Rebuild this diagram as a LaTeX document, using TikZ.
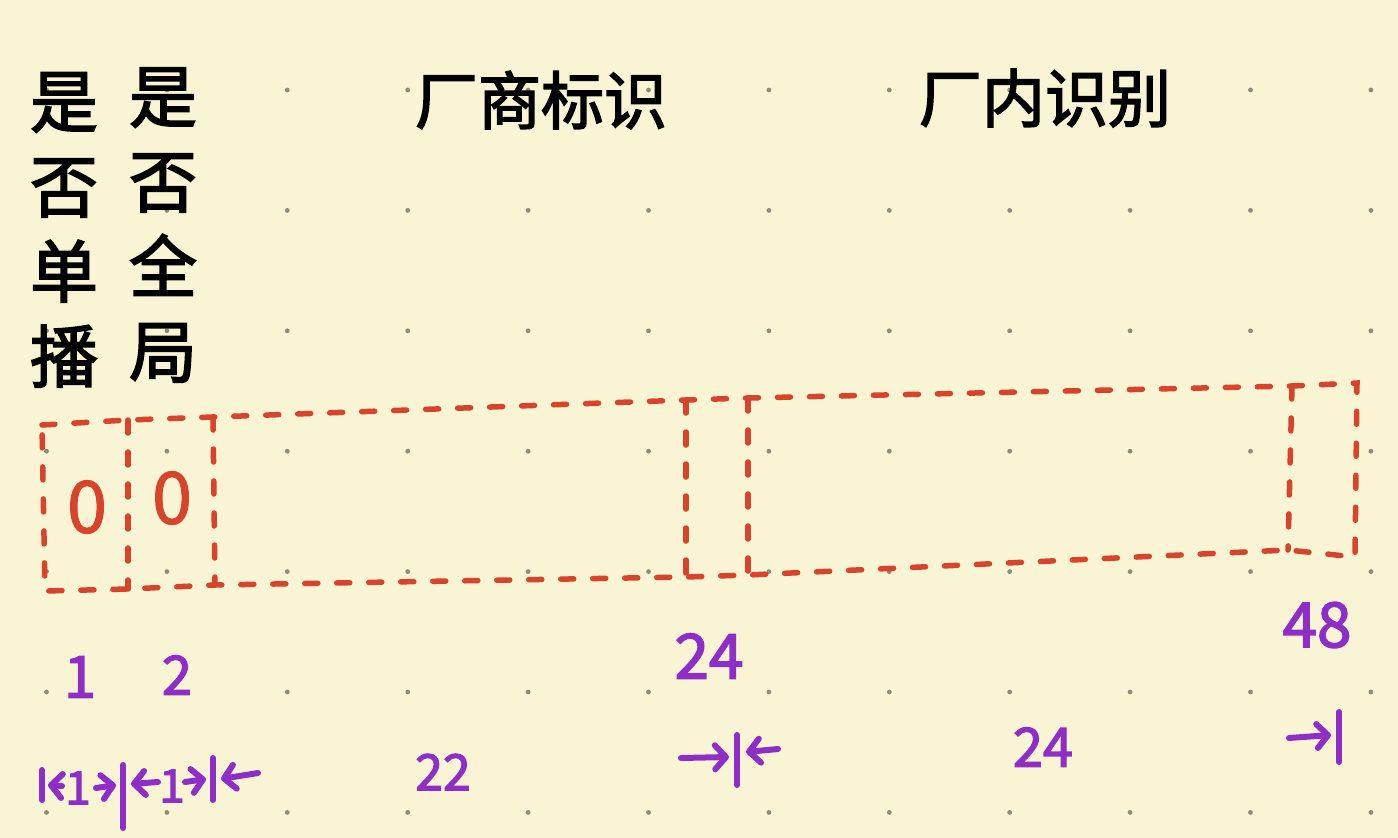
\documentclass[tikz,border=0pt]{standalone}
\usepackage{fontspec}
\newfontfamily\cjk[FakeBold=2.5]{Noto Sans CJK SC}
\newfontfamily\cjkdigit[FakeBold=1.5]{Noto Sans CJK SC}
\usetikzlibrary{arrows.meta}
\definecolor{paper}{HTML}{F9F4D3}
\definecolor{redink}{HTML}{D8432C}
\definecolor{purpleink}{HTML}{8E2EC6}
\definecolor{griddot}{HTML}{8C8B7E}
\begin{document}
\begin{tikzpicture}[x=1pt,y=-1pt,
  redbox/.style={draw=redink, line width=5.5pt, dash pattern=on 13pt off 19pt, line cap=round},
  vtext/.style={font=\cjk\fontsize{68}{85}\selectfont, text=black, inner sep=0pt, align=center},
  title/.style={font=\cjk\fontsize{63}{63}\selectfont, text=black, inner sep=0pt},
  bitval/.style={font=\cjkdigit\fontsize{72}{72}\selectfont, text=redink, inner sep=0pt},
  plabel/.style={text=purpleink, inner sep=0pt},
  pline/.style={draw=purpleink, line width=6pt, line cap=round},
  parrow/.style={pline, -{Straight Barb[length=11pt, width=24pt, line width=6pt, round]}}
]
\fill[paper] (0,0) rectangle (1398,838);
\useasboundingbox (0,0) rectangle (1398,838);
% dot grid
\foreach \i in {0,...,11}{
  \foreach \j in {0,...,6}{
    \fill[griddot] ({46.5+120.4*\i},{90+120.4*\j}) circle (2.4pt);
  }
}
% titles
\node[vtext] (unicast) at (64,230) {是\\否\\单\\播};
\node[vtext] (global) at (163,225) {是\\否\\全\\局};
\node[title] (vendor) at (541,100) {厂商标识};
\node[title] (internal) at (1045,98) {厂内识别};
% red dashed frame
\coordinate (tl) at (42,425);
\coordinate (t1) at (128,420);
\coordinate (t2) at (213,417);
\coordinate (t3) at (686,400);
\coordinate (t4) at (748,398);
\coordinate (t5) at (1292,386);
\coordinate (tr) at (1357,383);
\coordinate (br) at (1355,557);
\coordinate (b5) at (1288,550);
\coordinate (b4) at (748,575);
\coordinate (b3) at (686,577);
\coordinate (b2) at (215,585);
\coordinate (b1) at (128,589);
\coordinate (bl) at (45,591);
\draw[redbox] (tl) -- (t1) -- (t2) -- (t3) -- (t4) -- (t5) -- (tr) -- (br) -- (b5) -- (b4) -- (b3) -- (b2) -- (b1) -- (bl) -- cycle;
\draw[redbox] (t1) -- (b1);
\draw[redbox] (t2) -- (b2);
\draw[redbox] (t3) -- (b3);
\draw[redbox] (t4) -- (b4);
\draw[redbox] (t5) -- (b5);
\node[bitval] (v1) at (87,507) {0};
\node[bitval] (v2) at (172,498) {0};
% bit positions
\node[plabel, font=\cjk\fontsize{58}{58}\selectfont] (p1) at (80,677) {1};
\node[plabel, font=\cjk\fontsize{54}{54}\selectfont] (p2) at (177,675) {2};
\node[plabel, font=\cjk\fontsize{62}{62}\selectfont] (p24) at (709,656) {24};
\node[plabel, font=\cjk\fontsize{62}{62}\selectfont] (p48) at (1317,625) {48};
% widths
\node[plabel, font=\cjk\fontsize{50}{50}\selectfont] (w22) at (443,772) {22};
\node[plabel, font=\cjk\fontsize{54}{54}\selectfont] (w24) at (1043,747) {24};
\node[plabel, font=\cjk\fontsize{46}{46}\selectfont] (w1a) at (78,788) {1};
\node[plabel, font=\cjk\fontsize{46}{46}\selectfont] (w1b) at (172,786) {1};
% dimension bars
\coordinate (bar0t) at (42,770); \coordinate (bar0b) at (42,800);
\coordinate (bar1t) at (123,765); \coordinate (bar1b) at (123,828);
\coordinate (bar2t) at (213,758); \coordinate (bar2b) at (213,800);
\coordinate (bar3t) at (737,735); \coordinate (bar3b) at (737,785);
\coordinate (bar4t) at (1339,712); \coordinate (bar4b) at (1339,762);
\draw[pline] (bar0t) -- (bar0b);
\draw[pline] (bar1t) -- (bar1b);
\draw[pline] (bar2t) -- (bar2b);
\draw[pline] (bar3t) -- (bar3b);
\draw[pline] (bar4t) -- (bar4b);
% dimension arrows
\coordinate (a0s) at (62,786); \coordinate (a0e) at (48,785);
\coordinate (a1s) at (96,788); \coordinate (a1e) at (116,785);
\coordinate (a2s) at (158,782); \coordinate (a2e) at (131,784);
\coordinate (a3s) at (185,782); \coordinate (a3e) at (206,779);
\coordinate (a4s) at (258,773); \coordinate (a4e) at (221,779);
\coordinate (a5s) at (681,758); \coordinate (a5e) at (729,757);
\coordinate (a6s) at (778,749); \coordinate (a6e) at (746,752);
\coordinate (a7s) at (1289,738); \coordinate (a7e) at (1331,735);
\draw[parrow] (a0s) -- (a0e);
\draw[parrow] (a1s) -- (a1e);
\draw[parrow] (a2s) -- (a2e);
\draw[parrow] (a3s) -- (a3e);
\draw[parrow] (a4s) -- (a4e);
\draw[parrow] (a5s) -- (a5e);
\draw[parrow] (a6s) -- (a6e);
\draw[parrow] (a7s) -- (a7e);
\end{tikzpicture}
\end{document}
